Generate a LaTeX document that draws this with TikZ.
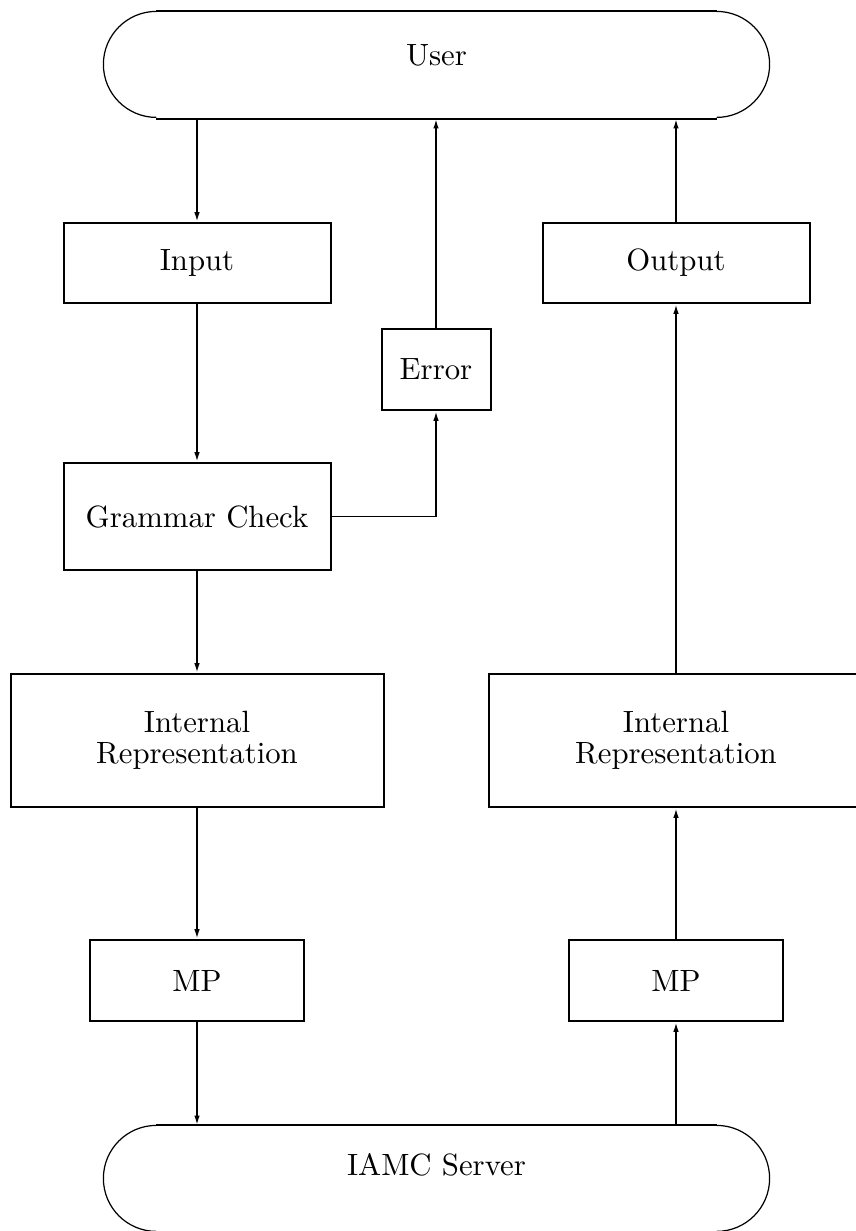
\documentclass[tikz,border=0pt]{standalone}
\usetikzlibrary{arrows.meta}
\begin{document}
\begin{tikzpicture}[x=0.325pt,y=0.325pt,
  every node/.style={font=\fontsize{10}{10}\selectfont, inner sep=0pt, align=center},
  box/.style 2 args={draw, line width=0.65pt, minimum width=#1*0.325pt, minimum height=#2*0.325pt},
  term/.style={minimum width=559*0.325pt, minimum height=106*0.325pt},
  edge/.style={line width=0.65pt},
  arcline/.style={line width=0.4pt},
  arr/.style={line width=0.6pt, -{Latex[length=3.2pt,width=1.8pt]}}
]
\useasboundingbox (0,0) rectangle (856,-1231);
\clip (0,0) rectangle (856,-1231);

% terminals
\node[term] (user) at (436.5,-65) {};
\node[term] (iamc) at (436.5,-1179) {};
\node (usertext) at (436.5,-55) {User};
\node (iamctext) at (436.5,-1165) {IAMC Server};
\foreach \t in {user,iamc}{
  \draw[edge] (\t.north west) -- (\t.north east);
  \draw[edge] (\t.south west) -- (\t.south east);
  \draw[arcline] (\t.north west) arc[start angle=90,end angle=270,radius=53*0.325pt];
  \draw[arcline] (\t.north east) arc[start angle=90,end angle=-90,radius=53*0.325pt];
}

% boxes
\node[box={267}{80}] (input) at (197,-263) {Input};
\node[box={267}{80}] (output) at (676,-263) {Output};
\node[box={109}{81}] (error) at (436,-369.5) {Error};
\node[box={267}{107}] (grammar) at (197,-516.5) {Grammar Check};
\node[box={373}{133}] (irl) at (197,-740.5) {Internal\\Representation};
\node[box={374}{133}] (irr) at (676,-740.5) {Internal\\Representation};
\node[box={214}{81}] (mpl) at (197,-980.5) {MP};
\node[box={214}{81}] (mpr) at (676,-980.5) {MP};

% connectors
\draw[arr] (user.south -| input) -- (input);
\draw[arr] (input) -- (grammar);
\draw[arr] (grammar.east) -| (error.south);
\draw[arr] (error) -- (error |- user.south);
\draw[arr] (output) -- (output |- user.south);
\draw[arr] (grammar) -- (irl);
\draw[arr] (irl) -- (mpl);
\draw[arr] (mpl) -- (mpl |- iamc.north);
\draw[arr] (iamc.north -| mpr) -- (mpr);
\draw[arr] (mpr) -- (irr);
\draw[arr] (irr.north -| output) -- (output);
\end{tikzpicture}
\end{document}
